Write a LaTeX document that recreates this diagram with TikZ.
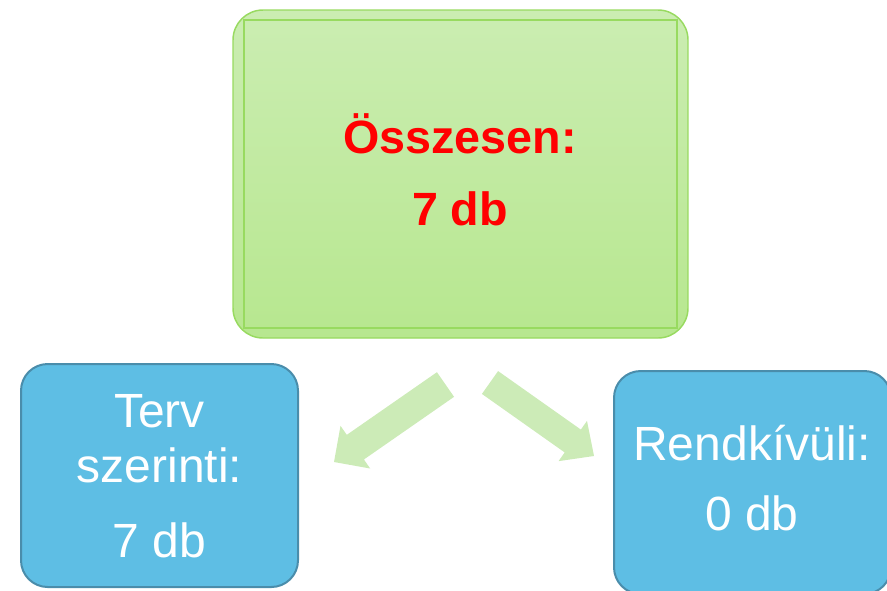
\documentclass[tikz,border=0pt]{standalone}
\usepackage{fontspec}
\setmainfont{Liberation Sans}
\usetikzlibrary{calc}
\definecolor{gtop}{HTML}{CBEDB2}
\definecolor{gbot}{HTML}{B7E78F}
\definecolor{gline}{HTML}{98DA60}
\definecolor{bfill}{HTML}{5EBEE4}
\definecolor{bline}{HTML}{4A8DAB}
\definecolor{arrowg}{HTML}{CCEBB7}
\tikzset{
  gbox/.style={draw=gline, line width=1.1pt, top color=gtop, bottom color=gbot,
    rounded corners=22.5pt, inner sep=0pt, outer sep=0pt,
    minimum width=341.25pt, minimum height=246pt},
  bbox/.style={draw=bline, line width=1.5pt, fill=bfill,
    rounded corners=20pt, inner sep=0pt, outer sep=0pt,
    minimum width=207.75pt, minimum height=167.25pt},
  gtext/.style={anchor=base, inner sep=0pt, text=red, font=\fontsize{35}{40}\selectfont\bfseries},
  btext/.style={anchor=base, inner sep=0pt, text=white, font=\fontsize{36}{40}\selectfont},
  blockarrow/.style={fill=arrowg, draw=none}
}
\begin{document}
\begin{tikzpicture}[x=0.75pt,y=-0.75pt]
\useasboundingbox (0,0) rectangle (887,590);
% top green box
\node[gbox] (top) at (460.5,174) {};
\draw[gline, line width=1.1pt] (244,20) rectangle (677,328);
\node[gtext] (t1) at (460,153) {Összesen:};
\node[gtext] (t2) at (460,225) {7 db};
% left blue box
\node[bbox] (left) at (159.5,475.5) {};
\node[btext] (l1) at (159.5,427) {Terv};
\node[btext] (l2) at (159.5,482) {szerinti:};
\node[btext] (l3) at (159.5,557) {7 db};
% right blue box
\node[bbox] (right) at (752.5,482.5) {};
\node[btext] (r1) at (752,460) {Rendkívüli:};
\node[btext] (r2) at (752,530) {0 db};
% block arrows
\coordinate (at1) at (445.5,384.5);
\coordinate (ap1) at (334,462);
\coordinate (ah1) at ($(ap1)!19.5pt!(at1)$);
\fill[blockarrow] ($(at1)!11.25pt!90:(ap1)$) -- ($(ah1)!11.25pt!90:(ap1)$) -- ($(ah1)!19.5pt!90:(ap1)$) -- (ap1)
  -- ($(ah1)!19.5pt!-90:(ap1)$) -- ($(ah1)!11.25pt!-90:(ap1)$) -- ($(at1)!11.25pt!-90:(ap1)$) -- cycle;
\coordinate (at2) at (490,382.5);
\coordinate (ap2) at (594,456);
\coordinate (ah2) at ($(ap2)!19.5pt!(at2)$);
\fill[blockarrow] ($(at2)!10.5pt!90:(ap2)$) -- ($(ah2)!10.5pt!90:(ap2)$) -- ($(ah2)!18.5pt!90:(ap2)$) -- (ap2)
  -- ($(ah2)!18.5pt!-90:(ap2)$) -- ($(ah2)!10.5pt!-90:(ap2)$) -- ($(at2)!10.5pt!-90:(ap2)$) -- cycle;
\end{tikzpicture}
\end{document}
